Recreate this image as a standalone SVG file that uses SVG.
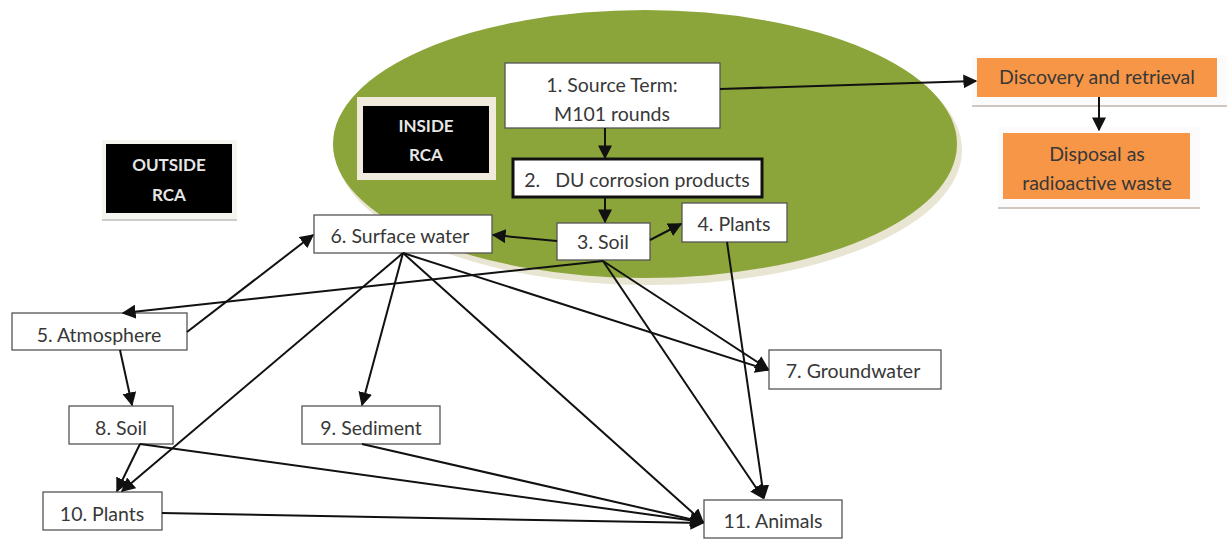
<svg xmlns="http://www.w3.org/2000/svg" width="1229" height="539" viewBox="0 0 1229 539">
<style>
.box{fill:#fff;stroke:#555;stroke-width:1.3}
.lbl{font-family:Lato,"Liberation Sans",sans-serif;font-size:19.5px;fill:#383838;text-anchor:middle}
.dark{font-family:Lato,"Liberation Sans",sans-serif;font-size:17px;font-weight:bold;fill:#e6e6e6;text-anchor:middle}
.org{fill:#f79646}
.con line{stroke:#111;stroke-width:2;marker-end:url(#ah)}
</style>
<defs>
<marker id="ah" viewBox="0 0 10 10" refX="9" refY="5" markerWidth="7" markerHeight="7" markerUnits="strokeWidth" orient="auto">
<path d="M0,0 L10,5 L0,10 z" fill="#111"/>
</marker>
</defs>
<rect width="1229" height="539" fill="#fff"/>
<g id="ellipse">
<ellipse cx="649" cy="150" rx="313" ry="135" fill="#e9e5d3"/>
<ellipse cx="645" cy="144" rx="312" ry="134" fill="#8ca53a"/>
</g>
<g id="outside-rca">
<rect x="102" y="140" width="135" height="80" fill="#f6f4ee"/>
<line x1="102" y1="220" x2="237" y2="220" stroke="#ccc" stroke-width="2"/>
<rect x="106" y="144" width="126" height="69" fill="#000"/>
<text class="dark" x="169" y="171">OUTSIDE</text>
<text class="dark" x="169" y="201">RCA</text>
</g>
<g id="inside-rca">
<rect x="357" y="97" width="139" height="83" fill="#efeadb"/>
<rect x="363" y="106" width="126" height="67" fill="#000"/>
<text class="dark" x="426" y="132">INSIDE</text>
<text class="dark" x="426" y="161">RCA</text>
</g>
<g id="discovery">
<rect x="972" y="55" width="255" height="50" fill="#fbfbfb"/>
<line x1="972" y1="106" x2="1227" y2="106" stroke="#d0c8c0" stroke-width="2"/>
<rect class="org" x="977" y="58" width="240" height="39"/>
<text class="lbl" x="1097" y="84">Discovery and retrieval</text>
</g>
<g id="disposal">
<rect x="998" y="127" width="202" height="80" fill="#fbfbfb"/>
<line x1="998" y1="208" x2="1200" y2="208" stroke="#d0c8c0" stroke-width="2"/>
<rect class="org" x="1003" y="133" width="187" height="66"/>
<text class="lbl" x="1097" y="161">Disposal as</text>
<text class="lbl" x="1097" y="190">radioactive waste</text>
</g>
<g id="n1"><rect class="box" x="505" y="63" width="215" height="65"/>
<text class="lbl" x="612" y="92">1. Source Term:</text>
<text class="lbl" x="612" y="121">M101 rounds</text></g>
<g id="n2"><rect x="513" y="159" width="249" height="38" fill="#fff" stroke="#111" stroke-width="3"/>
<text class="lbl" x="637" y="187" xml:space="preserve">2.   DU corrosion products</text></g>
<g id="n3"><rect class="box" x="557" y="223" width="93" height="37"/>
<text class="lbl" x="603" y="249">3. Soil</text></g>
<g id="n4"><rect class="box" x="682" y="203" width="105" height="39"/>
<text class="lbl" x="734" y="231">4. Plants</text></g>
<g id="n5"><rect class="box" x="12" y="313" width="175" height="37"/>
<text class="lbl" x="99" y="342">5. Atmosphere</text></g>
<g id="n6"><rect class="box" x="314" y="215" width="178" height="38"/>
<text class="lbl" x="400" y="243">6. Surface water</text></g>
<g id="n7"><rect class="box" x="769" y="350" width="172" height="39"/>
<text class="lbl" x="853" y="378">7. Groundwater</text></g>
<g id="n8"><rect class="box" x="69" y="406" width="104" height="38"/>
<text class="lbl" x="121" y="435">8. Soil</text></g>
<g id="n9"><rect class="box" x="302" y="406" width="138" height="38"/>
<text class="lbl" x="371" y="435">9. Sediment</text></g>
<g id="n10"><rect class="box" x="43" y="492" width="119" height="38"/>
<text class="lbl" x="102" y="521">10. Plants</text></g>
<g id="n11"><rect class="box" x="704" y="500" width="138" height="38"/>
<text class="lbl" x="773" y="528">11. Animals</text></g>
<g id="connectors" class="con">
<line x1="720" y1="89" x2="976" y2="81"/>
<line x1="1099" y1="97" x2="1099" y2="130"/>
<line x1="605" y1="128" x2="605" y2="158"/>
<line x1="605" y1="197" x2="605" y2="222"/>
<line x1="557" y1="241" x2="493" y2="235"/>
<line x1="650" y1="240" x2="681" y2="224"/>
<line x1="603" y1="261" x2="123" y2="313"/>
<line x1="187" y1="332" x2="313" y2="235"/>
<line x1="120" y1="350" x2="132" y2="405"/>
<line x1="140" y1="444" x2="117" y2="491"/>
<line x1="403" y1="253" x2="122" y2="491"/>
<line x1="403" y1="253" x2="362" y2="405"/>
<line x1="403" y1="253" x2="768" y2="370"/>
<line x1="403" y1="253" x2="703" y2="522"/>
<line x1="603" y1="261" x2="768" y2="369"/>
<line x1="603" y1="261" x2="763" y2="498"/>
<line x1="727" y1="242" x2="764" y2="498"/>
<line x1="140" y1="444" x2="703" y2="522"/>
<line x1="362" y1="444" x2="703" y2="522"/>
<line x1="162" y1="513" x2="703" y2="523"/>
</g>
</svg>
